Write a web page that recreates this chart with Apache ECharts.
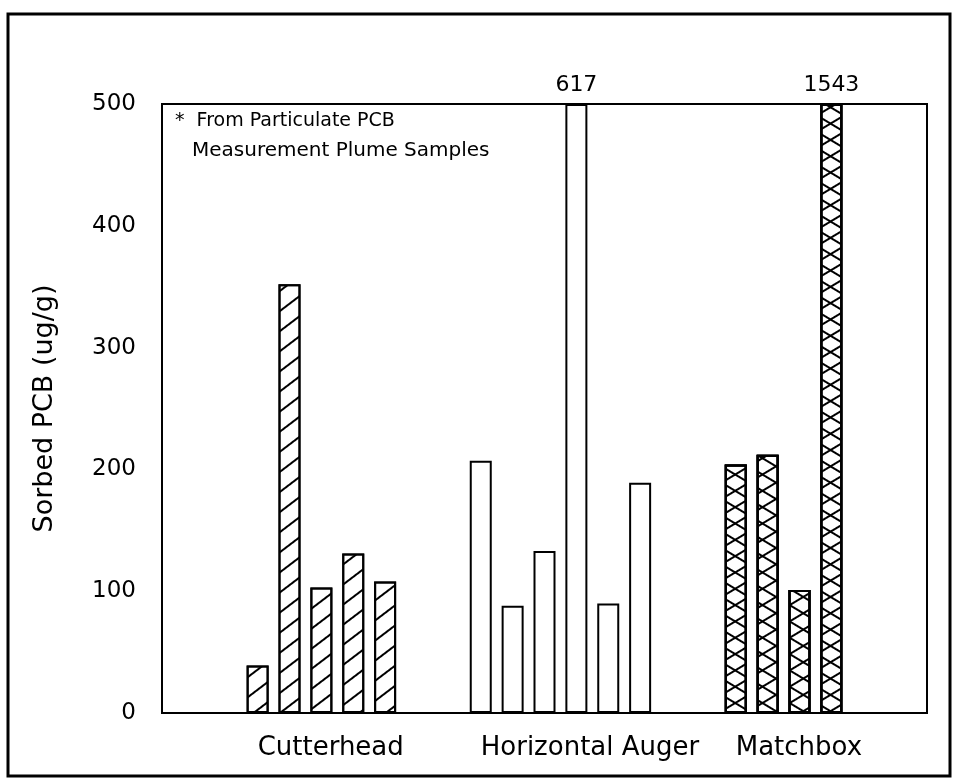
<!DOCTYPE html>
<html>
<head>
<meta charset="utf-8">
<title>Sorbed PCB</title>
<script src="https://cdn.jsdelivr.net/npm/echarts@6/dist/echarts.min.js"></script>
<style>
  html, body { margin: 0; padding: 0; background: #fff; }
  #main { width: 957px; height: 784px; }
</style>
</head>
<body>
<div id="main"></div>
<script>
// values (ug/g); the two tall bars are cut at the axis top
const groupNames = ['Cutterhead', 'Horizontal Auger', 'Matchbox'];
const cutterhead = [39, 352, 103, 131, 108];
const horizontalAuger = [207, 88, 133, 617, 90, 189];
const matchbox = [204, 212, 101, 1543];
const yTicks = [0, 100, 200, 300, 400, 500];

// category slots along x: each group starts at this slot, 25 slots in all
const slotCount = 25;
const groupStart = [3, 10, 18];

const yMax = yTicks[yTicks.length - 1];

const slotLabels = new Array(slotCount).fill('');
groupNames.forEach((n, i) => { slotLabels[groupStart[i]] = n; });

// put one group's values into the slot array, '-' elsewhere
function toSlots(values, start) {
  const arr = new Array(slotCount).fill('-');
  values.forEach((v, i) => {
    arr[start + i] = { value: Math.min(v, yMax), real: v };
  });
  return arr;
}

const FONT = 'DejaVu Sans';

const barBase = {
  type: 'bar',
  barWidth: 22,
  barGap: '-100%',
  animation: false,
  itemStyle: { color: '#fff', borderColor: '#000', borderWidth: 2 }
};

const overLabel = {
  show: true,
  position: 'top',
  distance: 8,
  color: '#000',
  fontFamily: FONT,
  fontSize: 22,
  formatter: p => (p.data && p.data.real > yMax ? String(p.data.real) : '')
};

let chart = echarts.init(document.getElementById('main'));

let option = {
  backgroundColor: '#fff',
  animation: false,
  grid: {
    left: 162, right: 30, top: 104, bottom: 71,
    show: true, borderColor: '#000', borderWidth: 2
  },
  graphic: [
    { // outer frame
      type: 'rect',
      shape: { x: 8, y: 14, width: 942, height: 762 },
      style: { fill: 'none', stroke: '#000', lineWidth: 3 }
    },
    {
      type: 'text', left: 175, top: 112,
      style: { text: '*  From Particulate PCB', font: '19px "DejaVu Sans"', fill: '#000' }
    },
    {
      type: 'text', left: 192, top: 141,
      style: { text: 'Measurement Plume Samples', font: '20px "DejaVu Sans"', fill: '#000' }
    }
  ],
  xAxis: {
    type: 'category',
    data: slotLabels,
    boundaryGap: false,
    axisLine: { show: true, lineStyle: { color: '#000', width: 2 } },
    axisTick: { show: false },
    splitLine: { show: false },
    axisLabel: {
      interval: 0,
      align: 'left',
      margin: 22,
      color: '#000',
      fontFamily: FONT,
      fontSize: 26
    }
  },
  yAxis: {
    type: 'value',
    min: 0,
    max: yMax,
    interval: 100,
    name: 'Sorbed PCB (ug/g)',
    nameLocation: 'middle',
    nameGap: 104,
    nameTextStyle: { color: '#000', fontFamily: FONT, fontSize: 27 },
    axisLine: { show: false },
    axisTick: { show: false },
    splitLine: { show: false },
    axisLabel: { margin: 26, color: '#000', fontFamily: FONT, fontSize: 23 }
  },
  series: [
    Object.assign({}, barBase, {
      name: groupNames[0],
      data: toSlots(cutterhead, groupStart[0]),
      itemStyle: Object.assign({}, barBase.itemStyle, {
        decal: {
          symbol: 'rect', symbolSize: 1, color: '#000',
          dashArrayX: [1, 0], dashArrayY: [1.6, 14],
          rotation: -0.65
        }
      })
    }),
    Object.assign({}, barBase, {
      name: groupNames[1],
      data: toSlots(horizontalAuger, groupStart[1]),
      label: overLabel
    }),
    Object.assign({}, barBase, {
      name: groupNames[2],
      data: toSlots(matchbox, groupStart[2]),
      itemStyle: Object.assign({}, barBase.itemStyle, {
        decal: {
          symbol: 'rect', symbolSize: 1, color: '#000',
          dashArrayX: [1, 0], dashArrayY: [1.8, 11.5],
          rotation: 0.54
        }
      })
    }),
    // second hatch direction over Matchbox -> cross-hatch
    Object.assign({}, barBase, {
      name: groupNames[2] + ' x',
      data: toSlots(matchbox, groupStart[2]),
      label: overLabel,
      itemStyle: Object.assign({}, barBase.itemStyle, {
        color: 'rgba(0,0,0,0)',
        decal: {
          symbol: 'rect', symbolSize: 1, color: '#000',
          dashArrayX: [1, 0], dashArrayY: [1.8, 11.5],
          rotation: -0.54
        }
      })
    })
  ]
};

option && chart.setOption(option);
</script>
</body>
</html>
